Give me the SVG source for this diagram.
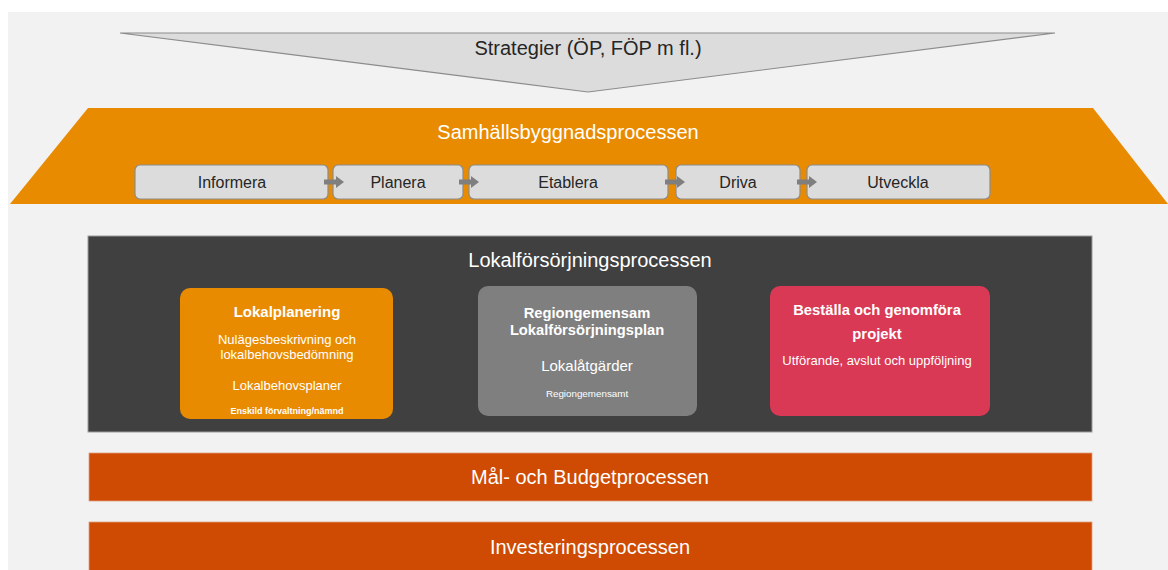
<svg xmlns="http://www.w3.org/2000/svg" width="1168" height="570" viewBox="0 0 1168 570">
<style>
text{font-family:"Liberation Sans",Arial,sans-serif;text-anchor:middle}
.w{fill:#ffffff}
.k{fill:#262626}
.step{fill:#dcdcdc;stroke:#8c8c8c;stroke-width:1.2}
.b{font-weight:bold}
</style>
<defs>
<path id="arr" d="M0,-2.5 H12 V-6 L20,0 L12,6 V2.5 H0 Z" fill="#7f7f7f"/>
</defs>
<rect x="0" y="0" width="1168" height="570" fill="#ffffff"/>
<rect x="8" y="12" width="1160" height="558" fill="#f2f2f2"/>

<g id="strategier">
<polygon points="120,33 1055,33 588,92" fill="#dcdcdc" stroke="#8c8c8c" stroke-width="1.2"/>
<text x="588" y="55" class="k" font-size="20">Strategier (ÖP, FÖP m fl.)</text>
</g>

<g id="samhallsbyggnad">
<polygon points="88,108 1093,108 1168,204 10,204" fill="#e98b00"/>
<text x="568" y="139" class="w" font-size="20">Samhällsbyggnadsprocessen</text>
</g>

<g id="informera"><rect class="step" x="135" y="165" width="193" height="34" rx="5"/><text x="232" y="188" class="k" font-size="16">Informera</text></g>
<g id="planera"><rect class="step" x="333" y="165" width="130" height="34" rx="5"/><text x="398" y="188" class="k" font-size="16">Planera</text></g>
<g id="etablera"><rect class="step" x="469" y="165" width="199" height="34" rx="5"/><text x="568" y="188" class="k" font-size="16">Etablera</text></g>
<g id="driva"><rect class="step" x="676" y="165" width="124" height="34" rx="5"/><text x="738" y="188" class="k" font-size="16">Driva</text></g>
<g id="utveckla"><rect class="step" x="807" y="165" width="183" height="34" rx="5"/><text x="898" y="188" class="k" font-size="16">Utveckla</text></g>

<g id="connectors">
<use href="#arr" x="324" y="182"/>
<use href="#arr" x="459" y="182"/>
<use href="#arr" x="665" y="182"/>
<use href="#arr" x="797" y="182"/>
</g>

<g id="lokalforsorjning">
<rect x="88" y="236" width="1004" height="196" fill="#404040" stroke="#9a9a9a" stroke-width="1"/>
<text x="590" y="267" class="w" font-size="20">Lokalförsörjningsprocessen</text>
</g>

<g id="lokalplanering">
<rect x="180" y="288" width="213" height="131" rx="10" fill="#e98b00"/>
<text x="287" y="317" class="w b" font-size="15">Lokalplanering</text>
<text x="287" y="344" class="w" font-size="13">Nulägesbeskrivning och</text>
<text x="287" y="359" class="w" font-size="13">lokalbehovsbedömning</text>
<text x="287" y="390" class="w" font-size="13">Lokalbehovsplaner</text>
<text x="287" y="414" class="w b" font-size="9">Enskild förvaltning/nämnd</text>
</g>

<g id="regiongemensam">
<rect x="478" y="286" width="219" height="130" rx="10" fill="#7f7f7f"/>
<text x="587" y="318" class="w b" font-size="14.7">Regiongemensam</text>
<text x="587" y="335" class="w b" font-size="14.7">Lokalförsörjningsplan</text>
<text x="587" y="371" class="w" font-size="15">Lokalåtgärder</text>
<text x="587" y="397" class="w" font-size="9.8">Regiongemensamt</text>
</g>

<g id="bestalla">
<rect x="770" y="286" width="220" height="130" rx="10" fill="#d93954"/>
<text x="877" y="315" class="w b" font-size="14.8">Beställa och genomföra</text>
<text x="877" y="339" class="w b" font-size="14.8">projekt</text>
<text x="877" y="365" class="w" font-size="13">Utförande, avslut och uppföljning</text>
</g>

<g id="malbudget">
<rect x="89" y="453" width="1003" height="48" fill="#cf4a02" stroke="#e0a080" stroke-width="0.8"/>
<text x="590" y="484" class="w" font-size="20">Mål- och Budgetprocessen</text>
</g>

<g id="investering">
<rect x="89" y="522" width="1003" height="52" fill="#cf4a02" stroke="#e0a080" stroke-width="0.8"/>
<text x="590" y="554" class="w" font-size="20">Investeringsprocessen</text>
</g>
</svg>
